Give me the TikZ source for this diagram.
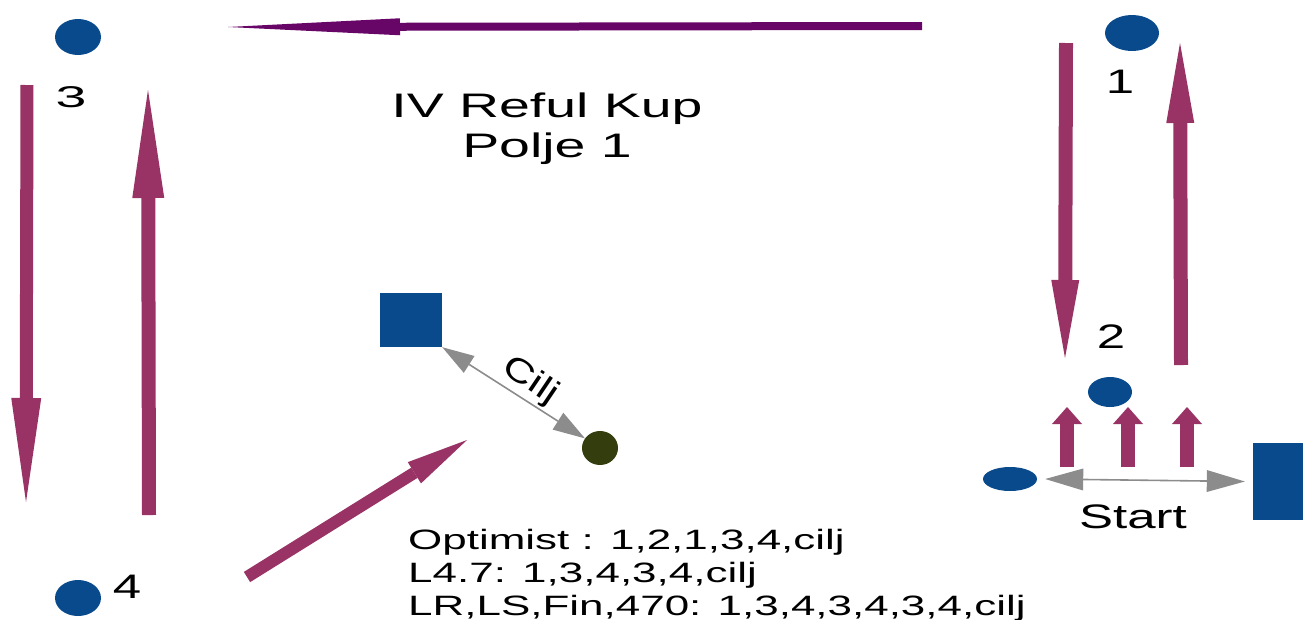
\documentclass[tikz,border=0pt]{standalone}
\usepackage{fontspec}
\setmainfont{Liberation Sans}
\usetikzlibrary{arrows.meta,shapes.geometric}
\definecolor{dotblue}{RGB}{8,74,140}
\definecolor{maroonarrow}{RGB}{153,51,102}
\definecolor{purplearrow}{RGB}{104,6,104}
\definecolor{goalgreen}{RGB}{51,61,13}
\definecolor{linegrey}{RGB}{140,140,140}
\newcommand{\wide}[2]{\scalebox{#1}[1]{#2}}
\begin{document}
\begin{tikzpicture}[x=1pt,y=-1pt,
  bluedot/.style={ellipse,fill=dotblue,draw=none,inner sep=0pt},
  goaldot/.style={ellipse,fill=goalgreen,draw=none,inner sep=0pt},
  bluebox/.style={rectangle,fill=dotblue,draw=none,inner sep=0pt},
  lbl/.style={inner sep=0pt,font=\fontsize{34}{40}\selectfont},
  fatarrow/.style={draw=maroonarrow,line cap=butt},
  greyarrow/.style={draw=linegrey,line width=1.6pt},
]
\useasboundingbox (0,0) rectangle (1303,619);

% dots and boxes
\node[bluedot,minimum width=46pt,minimum height=36pt] (d3) at (78,37) {};
\node[bluedot,minimum width=54pt,minimum height=36pt] (d1) at (1132,33) {};
\node[bluedot,minimum width=44pt,minimum height=30pt] (d2) at (1110,392) {};
\node[bluedot,minimum width=46pt,minimum height=36pt] (d4) at (78,598) {};
\node[bluedot,minimum width=54pt,minimum height=24pt] (ds) at (1010,479) {};
\node[goaldot,minimum width=36pt,minimum height=34pt] (g) at (600,448) {};
\node[bluebox,minimum width=62pt,minimum height=54pt] (sq) at (411,320) {};
\node[bluebox,minimum width=50pt,minimum height=77pt] (sr) at (1278,481.5) {};

% labels
\node[lbl,font=\fontsize{30}{36}\selectfont] (l3) at (71,97) {\wide{1.85}{3}};
\node[lbl] (l1) at (1120,82) {\wide{1.5}{1}};
\node[lbl] (l2) at (1111,337) {\wide{1.5}{2}};
\node[lbl] (l4) at (127,587) {\wide{1.5}{4}};
\node[lbl] (lstart) at (1133,517) {\wide{1.5}{Start}};

% title
\node[inner sep=0pt,anchor=north] (title) at (547,89)
  {\wide{1.63}{\fontsize{34}{40}\selectfont\begin{tabular}{@{}c@{}}IV Reful Kup\\Polje 1\end{tabular}}};

% text block
\node[inner sep=0pt,anchor=north west] (routes) at (408,526)
  {\wide{1.57}{\fontsize{28}{33}\selectfont\begin{tabular}{@{}l@{}}Optimist : 1,2,1,3,4,cilj\\L4.7: 1,3,4,3,4,cilj\\LR,LS,Fin,470: 1,3,4,3,4,3,4,cilj\end{tabular}}};

% grey double arrows
\draw[greyarrow,{Triangle[length=32pt,width=20pt,line width=0pt]}-{Triangle[length=32pt,width=20pt,line width=0pt]}] (sq.south east) -- (g);
\node[inner sep=0pt,rotate=-34,font=\fontsize{33}{38}\selectfont] (cilj) at (530,381) {\wide{1.3}{Cilj}};
\draw[greyarrow,{Triangle[length=38pt,width=22pt,line width=0pt]}-{Triangle[length=38pt,width=22pt,line width=0pt]}] ([xshift=8pt]ds.east) -- ([xshift=-8pt]sr.west);

% big arrows
\coordinate (ta) at (922,26);
\coordinate (tb) at (228,27);
\draw[draw=purplearrow,line width=8pt,-{Triangle[length=172pt,width=17pt,line width=0pt]}] (ta) -- (tb);

\coordinate (lda) at (27,85);
\coordinate (ldb) at (26,502);
\draw[fatarrow,line width=13pt,-{Triangle[length=104pt,width=30pt,line width=0pt]}] (lda) -- (ldb);

\coordinate (lua) at (149,515);
\coordinate (lub) at (148,90);
\draw[fatarrow,line width=14pt,-{Triangle[length=108pt,width=32pt,line width=0pt]}] (lua) -- (lub);

\coordinate (rda) at (1066,43);
\coordinate (rdb) at (1065,358);
\draw[fatarrow,line width=14pt,-{Triangle[length=78pt,width=28pt,line width=0pt]}] (rda) -- (rdb);

\coordinate (rua) at (1181,365);
\coordinate (rub) at (1180,43);
\draw[fatarrow,line width=14pt,-{Triangle[length=80pt,width=28pt,line width=0pt]}] (rua) -- (rub);

\coordinate (dga) at (247,577);
\coordinate (dgb) at (467,440);
\draw[fatarrow,line width=12pt,-{Triangle[length=62pt,width=25pt,line width=0pt]}] (dga) -- (dgb);

% small start arrows
\foreach \i/\xx in {1/1067,2/1128,3/1187}{
  \coordinate (sa\i) at (\xx,467);
  \coordinate (sb\i) at (\xx,407);
  \draw[fatarrow,line width=14pt,-{Triangle[length=17pt,width=30pt,line width=0pt]}] (sa\i) -- (sb\i);
}
\end{tikzpicture}
\end{document}
